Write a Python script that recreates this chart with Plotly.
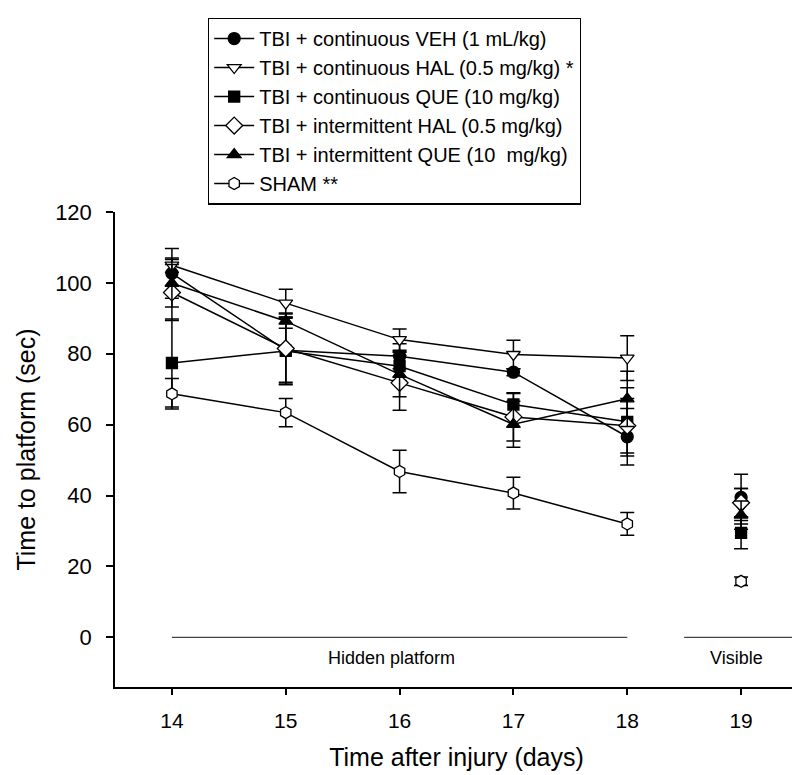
import plotly.graph_objects as go

# ---------------- data ----------------
days_hidden = [14, 15, 16, 17, 18]
day_visible = [19]

series_names = [
    "TBI + continuous VEH (1 mL/kg)",
    "TBI + continuous HAL (0.5 mg/kg) *",
    "TBI + continuous QUE (10 mg/kg)",
    "TBI + intermittent HAL (0.5 mg/kg)",
    "TBI + intermittent QUE (10  mg/kg)",
    "SHAM **",
]

veh_hidden = [102.7, 81.0, 79.3, 74.8, 56.6]
veh_visible = [39.5]
veh_err_hidden = [7.0, 9.0, 3.5, 1.0, 8.0]
veh_err_visible = [6.5]

halc_hidden = [105.0, 94.3, 84.0, 79.8, 78.8]
halc_visible = [37.0]
halc_err_hidden = [2.0, 3.9, 3.0, 4.0, 6.3]
halc_err_visible = [5.0]

quec_hidden = [77.4, 80.8, 76.5, 65.7, 60.8]
quec_visible = [29.5]
quec_err_hidden = [12.4, 9.5, 4.0, 3.1, 9.6]
quec_err_visible = [4.5]

hali_hidden = [97.3, 81.5, 71.8, 62.2, 59.7]
hali_visible = [38.0]
hali_err_hidden = [7.9, 10.0, 7.7, 6.8, 7.7]
hali_err_visible = [4.0]

quei_hidden = [99.9, 89.2, 74.2, 60.1, 67.3]
quei_visible = [34.5]
quei_err_hidden = [6.7, 2.0, 6.3, 6.5, 7.8]
quei_err_visible = [4.0]

sham_hidden = [68.7, 63.4, 46.8, 40.7, 32.0]
sham_visible = [15.8]
sham_err_hidden = [4.3, 4.0, 6.0, 4.5, 3.2]
sham_err_visible = [1.2]

x_tick_vals = [14, 15, 16, 17, 18, 19]
y_tick_vals = [0, 20, 40, 60, 80, 100, 120]

# ---------------- styling ----------------
FONT = "Arial, 'Liberation Sans', Helvetica, sans-serif"
styles = [
    dict(symbol="circle", fill="black"),
    dict(symbol="triangle-down", fill="white"),
    dict(symbol="square", fill="black"),
    dict(symbol="diamond", fill="white"),
    dict(symbol="triangle-up", fill="black"),
    dict(symbol="hexagon", fill="white"),
]
sizes = [12, 12, 11, 13, 12, 12]

hidden_sets = [veh_hidden, halc_hidden, quec_hidden, hali_hidden, quei_hidden, sham_hidden]
visible_sets = [veh_visible, halc_visible, quec_visible, hali_visible, quei_visible, sham_visible]
err_hidden_sets = [veh_err_hidden, halc_err_hidden, quec_err_hidden, hali_err_hidden, quei_err_hidden, sham_err_hidden]
err_visible_sets = [veh_err_visible, halc_err_visible, quec_err_visible, hali_err_visible, quei_err_visible, sham_err_visible]

fig = go.Figure()
for i, name in enumerate(series_names):
    st = styles[i]
    marker = dict(symbol=st["symbol"], color=st["fill"], size=sizes[i],
                  line=dict(color="black", width=1.3))
    err_style = dict(type="data", visible=True, color="black", thickness=1.5, width=7)
    fig.add_trace(go.Scatter(
        x=days_hidden, y=hidden_sets[i], name=name, legendgroup=name,
        mode="lines+markers", line=dict(color="black", width=1.5), marker=marker,
        error_y=dict(array=err_hidden_sets[i], **err_style),
    ))
    fig.add_trace(go.Scatter(
        x=day_visible, y=visible_sets[i], name=name, legendgroup=name, showlegend=False,
        mode="markers", marker=marker,
        error_y=dict(array=err_visible_sets[i], **err_style),
    ))

# phase bars and labels
phases = [("Hidden platform", 14, 18, 15.93), ("Visible", 18.5, 19.5, 18.96)]
for label, x0, x1, xc in phases:
    fig.add_shape(type="line", x0=x0, x1=x1, y0=0, y1=0, xref="x", yref="y",
                  line=dict(color="#444", width=1.2))
    fig.add_annotation(x=xc, y=-5.7, text=label, showarrow=False, xref="x", yref="y",
                       font=dict(family=FONT, size=18, color="black"))

fig.update_layout(
    width=800, height=775,
    margin=dict(l=107, r=10, t=202, b=96),
    paper_bgcolor="white", plot_bgcolor="white",
    font=dict(family=FONT, color="black"),
    showlegend=True,
    legend=dict(
        x=0.136, y=1.409, xanchor="left", yanchor="top",
        bordercolor="black", borderwidth=1.3, bgcolor="white",
        font=dict(family=FONT, size=20, color="black"),
        tracegroupgap=0, itemwidth=40,
    ),
)
fig.update_xaxes(
    range=[13.5, 19.5], tickvals=x_tick_vals, ticktext=[str(v) for v in x_tick_vals],
    showgrid=False, zeroline=False, showline=True, linecolor="black", linewidth=1.5,
    ticks="outside", ticklen=6, tickwidth=1.5, tickcolor="black",
    tickfont=dict(family=FONT, size=21), ticklabelstandoff=8,
    title=dict(text="Time after injury (days)", font=dict(family=FONT, size=25), standoff=18),
)
fig.update_yaxes(
    range=[-14, 120], tickvals=y_tick_vals,
    showgrid=False, zeroline=False, showline=True, linecolor="black", linewidth=1.5,
    ticks="outside", ticklen=7, tickwidth=1.5, tickcolor="black",
    tickfont=dict(family=FONT, size=22), ticklabelstandoff=10,
    title=dict(text="Time to platform (sec)", font=dict(family=FONT, size=25), standoff=12),
)

fig.write_html("out.html")
